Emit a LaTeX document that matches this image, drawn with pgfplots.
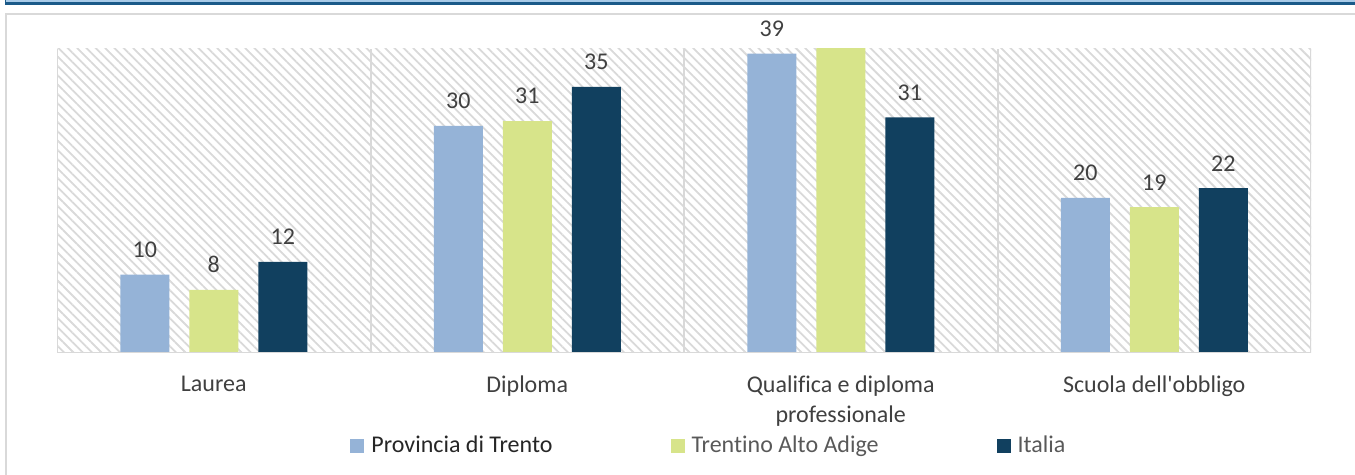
\documentclass[border=0pt]{standalone}
\usepackage{fontspec}
\setmainfont{Carlito}[Ligatures={NoCommon}]
\usepackage{pgfplots}
\pgfplotsset{compat=1.18}
\usetikzlibrary{patterns.meta}
\definecolor{cProv}{HTML}{95B3D7}
\definecolor{cTaa}{HTML}{D7E48A}
\definecolor{cIta}{HTML}{11405F}
\definecolor{gridgrey}{HTML}{D9D9D9}
\definecolor{hatchgrey}{HTML}{D9D9D9}
\definecolor{txt}{HTML}{404040}
\definecolor{darkblue}{HTML}{1B5A89}
\definecolor{lightblue}{HTML}{A9CBE8}
\begin{document}
\begin{tikzpicture}
\path[use as bounding box] (0,0) rectangle (677.5pt,237.5pt);
% decorative frame
\fill[lightblue] (2.5pt,236.5pt) rectangle (677.5pt,237.5pt);
\fill[darkblue] (2.5pt,235pt) rectangle (677.5pt,236.5pt);
\fill[darkblue] (2.5pt,235pt) rectangle (3.2pt,237.5pt);
\draw[gridgrey,line width=1pt] (2.75pt,0pt) -- (2.75pt,230.5pt) -- (677.5pt,230.5pt);
\begin{axis}[
  at={(28.5pt,61pt)}, anchor=south west,
  scale only axis, width=627pt, height=152pt,
  ybar=10pt, bar width=24.5pt,
  xmin=-0.5, xmax=3.5, ymin=0, ymax=40,
  axis line style={draw=none},
  ytick=\empty,
  xtick={0,1,2,3},
  xticklabels={Laurea, Diploma, {Qualifica e diploma\\professionale}, Scuola dell\textquotesingle obbligo},
  xtick style={draw=none}, major tick length=0pt,
  xticklabel style={align=center, yshift=-8pt, font=\fontsize{12}{15}\selectfont, text=txt},
  extra x ticks={0.5,1.5,2.5}, extra x tick labels={},
  extra x tick style={grid=major, major grid style={draw=gridgrey, line width=1pt}},
  axis background/.style={pattern={Lines[angle=-45,distance=3.3pt,line width=0.9pt]}, pattern color=hatchgrey},
  clip=true,
  point meta=explicit symbolic,
  nodes near coords,
  nodes near coords style={font=\fontsize{12}{14}\selectfont, text=txt, anchor=south, yshift=5pt},
  legend columns=3,
  legend style={at={(0.2337,-0.306)}, anchor=west, draw=none, fill=none, inner sep=0pt,
    font=\fontsize{12}{14}\selectfont,
    nodes={inner sep=0pt},
    /tikz/every odd column/.append style={column sep=3.5pt},
    /tikz/every even column/.append style={column sep=59pt}},
  legend cell align=left,
  legend image code/.code={\fill[#1,draw=none] (0pt,-3.5pt) rectangle (7pt,3.5pt);},
]
\addplot[fill=cProv, draw=none] coordinates {(0,10.3)[10] (1,29.9)[30] (2,39.4)[39] (3,20.4)[20]};
\addlegendentry{\textcolor[HTML]{262626}{Provincia di Trento}}
\addplot[fill=cTaa, draw=none] coordinates {(0,8.3)[8] (1,30.5)[31] (2,41)[] (3,19.2)[19]};
\addlegendentry{\textcolor[HTML]{595959}{Trentino Alto Adige}}
\addplot[fill=cIta, draw=none] coordinates {(0,12)[12] (1,35)[35] (2,31)[31] (3,21.7)[22]};
\addlegendentry{\textcolor[HTML]{595959}{Italia}}
\draw[gridgrey, line width=1pt] (rel axis cs:0,1) -- (rel axis cs:0,0) -- (rel axis cs:1,0) -- (rel axis cs:1,1);
\end{axis}
\end{tikzpicture}
\end{document}
